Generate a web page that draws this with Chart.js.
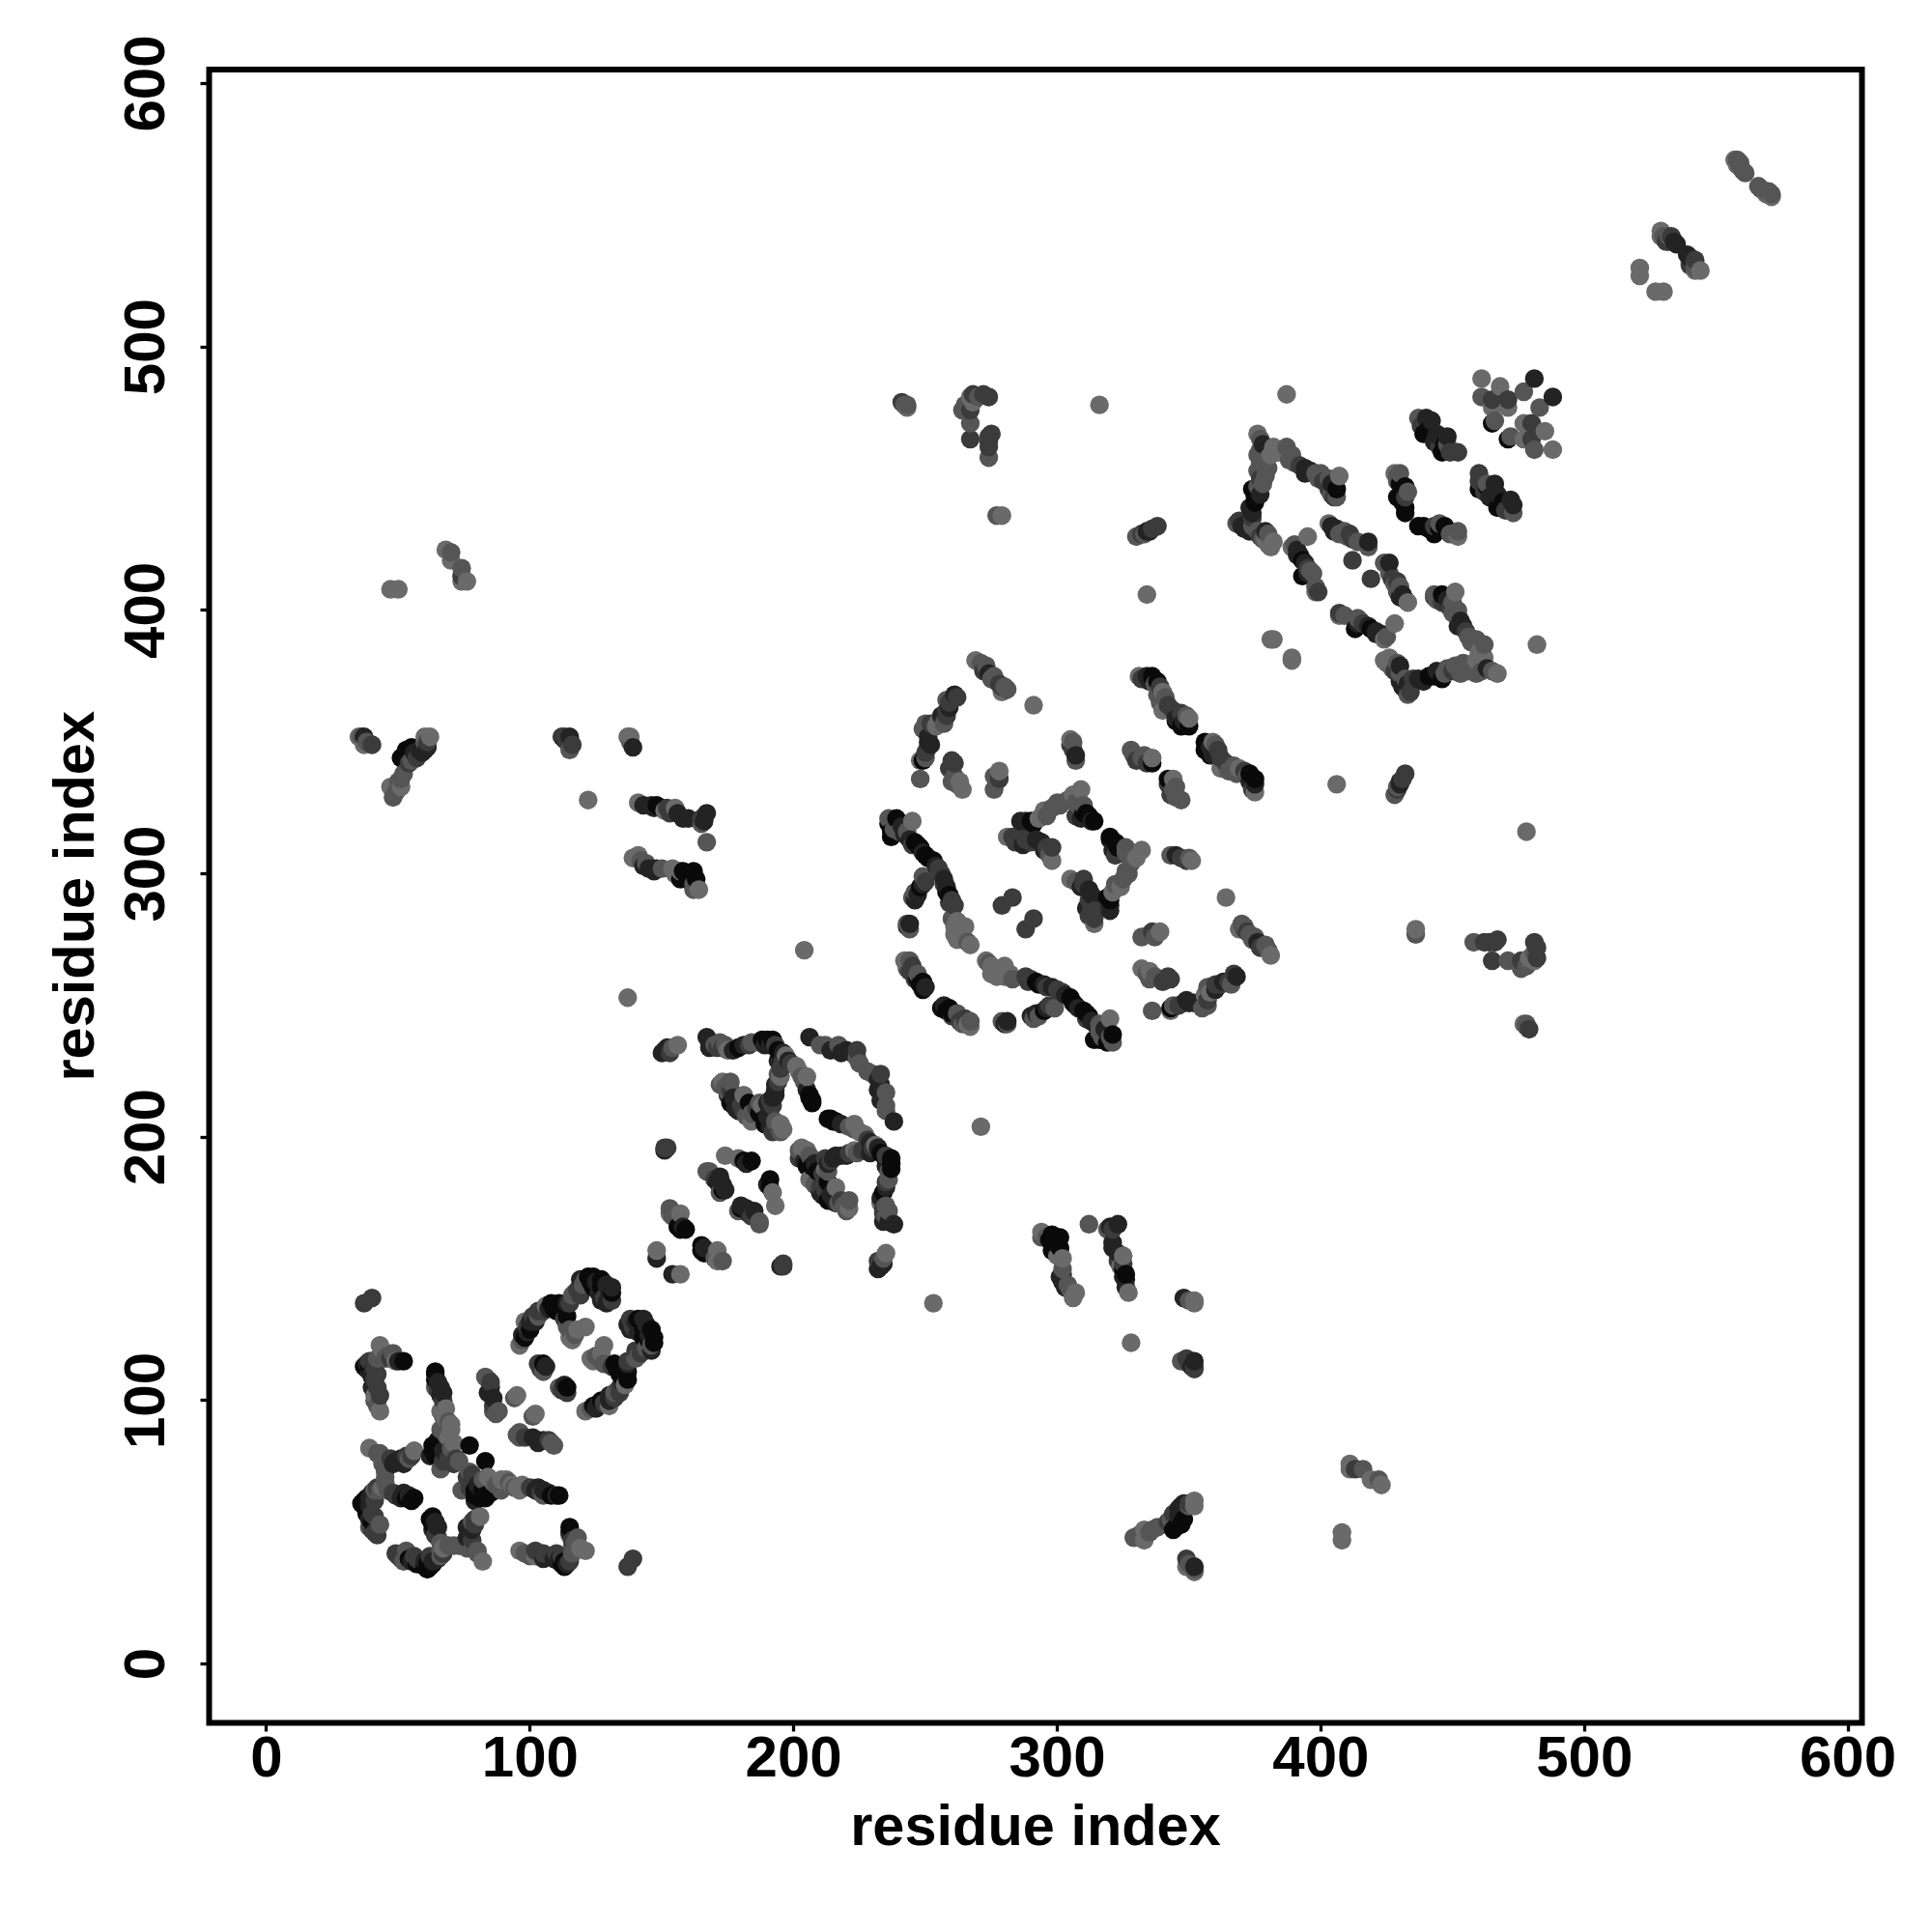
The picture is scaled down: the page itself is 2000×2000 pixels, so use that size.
<!DOCTYPE html>
<html>
<head>
<meta charset="utf-8">
<title>residue contact map</title>
<script src="https://cdn.jsdelivr.net/npm/chart.js@4"></script>
<style>
  html, body { margin: 0; padding: 0; background: #fff; }
  canvas { display: block; }
</style>
</head>
<body>
<canvas id="chartContacts" width="2000" height="2000"></canvas>
<script>
// contacts as [residue i, residue j, tone], i < j. the map is symmetric so both triangles get drawn
const firstDomain = [
  [37,137,2],[40,139,2],
  [43,121,4],[48,118,3],[49,115,4],[52,115,0],[44,118,3],[42,116,3],[37,113,0],[39,113,0],
  [40,111,1],[41,108,2],[40,105,1],[43,102,2],[41,102,4],[43,96,4],
  [38,112,0],[39,111,1],[40,109,1],[41,112,2],[42,110,2],[42,105,2],[41,100,3],[42,98,3],[44,119,4],[46,117,3],[47,116,2],[45,116,3],[50,115,1],[38,114,1],[39,115,2],
  [64,111,0],[64,108,0],[66,105,1],[66,102,1],[64,105,3],[68,97,4],[66,96,4],[70,91,4],
  [71,84,4],[77,83,0],[63,83,0],[65,85,0],[66,82,0],[62,79,1],[67,77,2],[71,76,2],[66,74,3],[66,89,3],
  [64,110,1],[65,107,1],[65,104,2],[67,103,1],[67,100,2],[67,95,4],[68,93,4],[69,92,3],[70,89,4],[67,94,3],[68,87,3],[69,86,4],[70,82,3],
  [63,81,0],[64,83,0],[65,80,0],[64,79,0],[66,79,0],[67,81,1],[68,80,1],[69,78,2],[72,78,2],[73,77,3],
  [39,82,4],[42,80,3],[56,81,4],[53,79,2],[51,78,1],[49,77,1],[45,74,3],[45,71,3],
  [43,80,3],[44,78,3],[47,78,2],[48,76,1],[50,77,1],[52,76,1],[54,78,3],[55,79,2],[44,76,3],[45,73,3],[45,69,3],
  [37,62,0],[38,63,0],[40,65,1],[42,67,2],[44,67,4],[48,65,2],[52,65,1],[56,63,0],
  [37,60,0],[36,61,0],[38,61,0],[39,63,1],[39,60,1],[41,66,3],[43,66,3],[46,66,3],[49,64,2],[51,63,1],[53,63,0],[55,62,0],[54,64,1],
  [41,56,2],[39,52,3],[42,49,2],[40,54,0],[40,57,2],[39,55,1],[40,51,2],[41,50,2],[43,53,3],[38,57,0],[41,62,2]
];
const firstDomainRing = [
  [83,109,3],[85,105,1],[86,101,1],[87,95,3],[84,108,3],[95,102,4],[94,101,3],
  [85,107,2],[84,103,1],[86,98,2],[88,96,3],[86,96,3],
  [103,114,2],[105,114,0],[105,111,3],[104,112,2],[106,113,1],
  [96,121,4],[99,126,1],[98,130,4],[103,134,2],[106,136,4],[111,137,0],[113,136,0],[114,132,0],
  [116,140,3],[121,146,3],[124,147,0],[127,146,0],[131,143,1],[131,138,2],[127,138,1],
  [115,127,3],[116,123,4],[121,128,4],[148,157,4],[148,154,1],
  [97,123,3],[98,124,0],[97,125,1],[99,128,2],[100,127,0],[101,132,2],[100,130,1],[102,130,1],[103,132,3],[105,134,2],
  [107,135,1],[108,137,0],[109,135,0],[110,134,0],[112,133,0],[113,131,2],[114,128,3],[117,125,3],[115,124,4],[118,127,4],
  [114,137,1],[115,137,2],[117,141,3],[118,142,2],[119,140,2],[119,146,1],[120,144,3],[122,147,0],[123,145,0],[125,145,1],
  [124,143,0],[127,143,0],[126,141,1],[129,144,1],[130,140,1],[128,139,2],[129,137,1],[131,141,0]
];
const secondDomain = [
  [151,233,1],[156,235,4],[167,238,1],[170,235,3],[173,234,2],[175,233,4],[179,234,0],[183,235,2],
  [187,236,3],[190,237,0],[193,235,2],[196,232,1],[197,231,4],[194,229,1],[195,226,2],[195,223,4],
  [193,220,1],[192,215,1],[192,212,2],[201,227,4],[205,223,4],[203,223,3],[206,215,0],[207,213,0],
  [206,238,1],[212,235,3],[217,235,3],[220,233,1],[224,233,2],[224,230,3],
  [150,232,1],[152,234,1],[153,232,2],[154,234,3],
  [168,236,1],[168,234,1],[171,234,2],[172,236,3],[174,235,3],[177,233,1],[181,235,1],[184,236,3],[188,237,0],[189,235,1],
  [191,235,1],[192,237,0],[194,233,0],[196,230,2],[198,229,1],[194,224,3],[194,221,2],[193,218,1],[193,216,1],[191,214,2],[190,213,1],
  [199,228,2],[202,225,4],[204,221,3],[205,218,1],[206,216,0],[207,214,0],[210,235,3],[214,233,1],[218,232,1],[222,232,1],[225,228,3],
  [173,221,4],[176,221,3],[181,216,4],[175,217,3],[176,213,0],[183,213,0],[179,210,1],[184,209,3],
  [184,206,4],[188,212,4],[190,208,1],[195,205,4],[195,202,3],[190,205,0],[189,207,0],
  [172,220,3],[174,219,3],[175,216,1],[177,215,1],[176,218,2],[178,214,1],[180,212,2],[178,211,1],[181,210,2],[182,208,3],
  [186,211,2],[187,213,3],[187,209,0],[189,205,0],[191,204,1],[192,202,2],[193,206,3],[196,203,4],
  [151,196,2],[152,196,2],[151,195,1],[174,193,4],[179,192,4],[184,191,0],[181,191,0],[182,190,1],
  [168,187,3],[173,182,1],[173,180,0],[172,179,3],[170,184,2],[171,183,1],[174,180,1],[167,187,3],[172,185,1],
  [153,173,3],[157,171,4],[159,165,0],[156,166,0],[154,170,3],[153,171,4],[158,166,1],[157,165,0]
];
const thirdDomain = [
  [269,381,4],[273,379,3],[276,375,3],[280,371,3],[279,369,4],
  [271,380,3],[272,377,2],[274,376,1],[275,374,3],[277,373,3],[278,372,2],[279,371,2],[281,370,3],
  [261,368,1],[258,366,3],[258,362,2],[250,357,3],[254,356,4],[257,357,3],[251,350,1],[250,346,2],[248,343,4],[249,343,0],
  [262,367,2],[259,365,2],[259,363,1],[256,360,1],[258,360,2],[252,357,2],[255,358,4],[249,355,3],[251,352,1],[252,349,1],[251,348,2],[250,344,3],
  [248,336,3],[260,343,2],[259,340,2],[263,335,4],[264,332,4],[260,335,3],[261,337,3],[262,334,3],[261,342,2],
  [278,339,4],[277,335,3],[276,332,3],[276,337,3],[278,336,2],[291,364,4],[305,351,4],[306,347,2],[307,343,3],[306,350,3],[305,349,2],[307,345,1],
  [331,375,4],[334,375,1],[338,373,0],[340,369,4],[341,367,3],[340,362,4],[347,361,2],[350,359,4],[347,356,0],[350,356,0],
  [332,374,2],[336,375,0],[335,373,1],[337,372,3],[339,371,2],[338,368,3],[339,365,3],[342,364,2],[344,362,2],[345,359,1],[348,358,1],[349,360,3],[345,358,0],
  [328,347,3],[332,344,3],[336,344,4],[336,342,0],[329,345,3],[330,343,2],[333,345,3],[334,342,2]
];
const thirdDomainDiamond = [
  [309,332,4],[304,328,3],[301,326,3],[298,325,3],[293,321,4],[286,320,1],[290,320,0],
  [281,314,4],[286,314,2],[290,312,2],[294,312,1],[298,310,2],[298,305,4],
  [311,323,0],[314,320,0],[309,321,1],[310,326,3],
  [306,330,4],[307,327,3],[300,327,3],[296,322,3],[295,324,4],[288,320,1],[291,319,0],[283,314,2],[284,312,2],[288,313,2],
  [287,311,1],[292,313,1],[296,310,2],[295,309,1],[297,307,3],[310,323,0],[312,322,0],[313,320,1],[307,322,2],[308,326,3],
  [283,291,2],[279,288,2]
];
const thirdDomainEdge = [
  [236,321,3],[239,321,0],[245,320,4],[237,314,0],[240,316,3],[244,313,1],[248,310,0],[253,305,0],
  [256,300,2],[258,295,1],[259,292,0],[261,288,2],[249,299,3],[248,295,0],[245,291,3],[247,292,1],
  [238,320,3],[236,319,0],[237,316,0],[238,317,3],[241,318,1],[242,315,1],[243,316,3],[245,311,2],[246,312,0],[247,311,0],
  [249,308,1],[250,307,0],[251,306,0],[254,303,1],[255,302,2],[257,298,1],[257,296,2],[258,293,0],[260,290,2],[259,289,2],
  [250,297,2],[249,296,1],[246,293,3],[246,290,1],
  [244,281,1],[243,281,3],[262,282,4],[265,280,4],[267,273,4],[261,277,4],[260,283,3],
  [243,280,1],[244,279,3],[261,280,4],[263,279,4],[264,277,4],[265,275,4],[266,274,3],[262,275,4],
  [242,267,4],[245,265,2],[247,262,3],[249,259,0],[249,256,0],
  [243,266,4],[244,267,3],[243,264,3],[244,263,2],[246,260,2],[247,260,0],[248,258,0],[250,257,1]
];
const fourthDomain = [
  [376,467,4],[378,463,1],[384,460,4],[387,462,3],[390,456,3],[394,454,1],[398,452,3],[401,449,2],
  [407,451,4],[406,446,0],[405,443,2],[379,457,3],[379,451,3],[376,447,3],[375,443,0],[373,439,1],
  [377,465,3],[377,461,3],[381,459,4],[382,462,4],[385,461,4],[389,459,3],[388,457,3],[392,455,2],[394,452,1],[396,453,1],
  [399,450,3],[400,452,3],[403,450,3],[404,448,1],[403,446,2],[404,444,3],[406,443,3],
  [380,454,3],[378,448,3],[377,444,1],[375,441,0],[374,437,1],[374,435,2],[376,453,3],[377,456,3],[376,459,3],[377,450,2],[374,446,0],
  [368,433,3],[372,433,1],[376,430,3],[379,430,1],[379,427,4],[381,424,4],
  [370,432,1],[369,434,2],[371,431,1],[373,430,1],[374,432,3],[377,428,2],[378,427,3],[380,429,3],[380,425,4],[382,426,4],
  [403,433,4],[405,430,1],[409,430,3],[412,427,2],[418,426,1],[418,424,3],
  [404,432,1],[406,431,1],[407,429,3],[410,428,3],[411,429,2],[414,426,3],
  [395,428,4],[389,424,4],[391,421,1],[394,418,1],[397,414,3],[393,413,0],[399,407,2],[398,407,4],[412,419,2],
  [390,425,3],[391,423,1],[392,421,1],[393,419,0],[395,416,2],[395,414,1],[396,415,3],[398,409,3],
  [428,452,4],[429,451,3],[432,447,0],[432,443,2],[432,439,0],[429,443,0],
  [429,449,3],[430,452,3],[430,448,0],[431,445,0],[431,441,0],[433,445,3],[432,437,0],
  [437,473,3],[440,473,1],[439,467,0],[444,467,1],[448,466,1],[448,463,3],[446,460,0],[452,460,2],
  [438,470,2],[442,472,1],[441,469,0],[443,464,1],[445,466,1],[447,463,0],[445,462,2],[449,460,2],
  [381,389,4],[382,389,4]
];
const fourthDomainTip = [
  [461,488,4],[481,488,1],[468,485,4],[477,483,3],[461,481,3],[465,480,2],[471,480,2],[471,477,4],[465,477,4],[466,472,3],[465,471,0],
  [521,530,4],[521,527,4],[529,544,4],[532,542,3],[534,540,1],[531,540,2],[530,542,3],[529,542,4],[532,540,2],[533,542,2],[535,539,1],
  [557,571,4],[558,571,3],[559,569,3],[561,566,3],[558,569,4],[560,567,3],[559,570,3]
];
const longRange = [
  [47,408,4],[50,408,4],[68,423,4],[70,422,3],[70,419,4],[74,416,3],[74,413,2],[76,411,4],[74,411,4],
  [35,352,4],[37,352,1],[37,349,4],[40,349,2],[36,352,3],[38,350,3],
  [51,344,0],[55,348,0],[59,346,1],[61,348,1],[60,352,4],[62,352,4],[55,343,3],[54,342,2],[51,336,3],[47,333,4],[51,333,4],[48,329,3],
  [52,345,0],[53,347,0],[56,346,1],[58,347,1],[60,347,1],[57,344,2],[60,350,3],[61,350,2],[49,331,3],[50,335,3],[52,338,3],
  [112,352,2],[115,352,1],[115,347,3],[113,351,1],[137,352,4],[138,352,4],[139,348,1],[113,352,2],[114,350,2],[116,349,2],[138,350,3],
  [122,328,4],[141,327,4],[146,326,1],[150,325,0],[151,324,4],[155,325,4],[158,321,1],[165,319,3],[167,323,1],[165,321,2],[167,312,3],
  [143,326,1],[147,325,1],[148,326,0],[152,325,2],[153,323,2],[156,323,1],[160,321,1],[166,320,1],
  [139,306,4],[141,307,4],[144,304,3],[145,302,1],[148,302,1],[154,302,4],[158,301,0],[157,298,0],[162,301,0],[163,298,0],[164,294,4],[162,294,3],[157,301,4],
  [142,305,3],[143,303,1],[146,302,1],[147,301,1],[150,302,3],[155,300,4],[159,300,0],[160,299,0],[161,297,0],[162,296,3],
  [241,479,2],[243,478,3],[243,477,4],[267,481,4],[264,476,3],[267,476,2],[267,471,3],[267,465,2],[270,481,3],[274,481,2],
  [242,478,3],[268,479,4],[265,478,3],[268,482,2],[272,482,2],[274,464,2],[275,467,2],
  [274,466,2],[274,462,2],[274,458,3],[316,478,4],[277,436,3],[279,436,4],
  [330,428,3],[334,430,1],[338,432,2],[333,429,3],[332,429,2],[335,430,1],[336,431,2],[334,406,4],[137,253,4],[204,271,4],[387,482,4]
];
const toneLevels = ['#0a0a0a', '#232323', '#3b3b3b', '#555555', '#6a6a6a'];
const tickValues = [0, 100, 200, 300, 400, 500, 600];
const axisLabel = 'residue index';

const contacts = [
  ...firstDomain, ...firstDomainRing, ...secondDomain, ...thirdDomain, ...thirdDomainDiamond,
  ...thirdDomainEdge, ...fourthDomain, ...fourthDomainTip, ...longRange
];

// every pair shows up twice, then ordered along x like the original plot
const points = [];
contacts.forEach(([i, j, tone]) => {
  points.push({ x: i, y: j, tone });
  points.push({ x: j, y: i, tone });
});
points.sort((a, b) => a.x - b.x || a.y - b.y);

const framePlugin = {
  id: 'frame',
  afterDatasetsDraw(chart) {
    const { ctx, chartArea: a } = chart;
    ctx.save();
    ctx.lineWidth = 6;
    ctx.strokeStyle = '#000';
    ctx.strokeRect(a.left, a.top, a.right - a.left, a.bottom - a.top);
    ctx.restore();
  }
};

const tickFont = { family: '"Liberation Sans"', size: 60, weight: 'bold' };
const titleFont = { family: '"Liberation Sans"', size: 59.5, weight: 'bold' };
const tickGrid = { drawOnChartArea: false, drawTicks: true, tickLength: 9, tickWidth: 3.3, tickColor: '#000' };
const useTickValues = scale => { scale.ticks = tickValues.map(value => ({ value })); };

new Chart(document.getElementById('chartContacts'), {
  type: 'scatter',
  data: {
    datasets: [{
      label: axisLabel,
      data: points,
      pointRadius: 9.7,
      pointHoverRadius: 9.7,
      pointBorderWidth: 0,
      pointBackgroundColor: points.map(p => toneLevels[p.tone]),
      clip: false
    }]
  },
  options: {
    responsive: false,
    animation: false,
    layout: { padding: { top: 72, right: 72.5, left: 0, bottom: 0 } },
    plugins: { legend: { display: false }, tooltip: { enabled: false } },
    scales: {
      x: {
        type: 'linear',
        min: -21.8,
        max: 605.3,
        border: { display: false },
        grid: tickGrid,
        afterBuildTicks: useTickValues,
        afterFit: scale => { scale.height = 216.5; },
        ticks: { font: tickFont, color: '#000', padding: -6, maxRotation: 0, autoSkip: false },
        title: { display: true, text: axisLabel, color: '#000', font: titleFont, padding: { top: 0, bottom: 71 } }
      },
      y: {
        type: 'linear',
        min: -22.3,
        max: 605.3,
        border: { display: false },
        grid: tickGrid,
        afterBuildTicks: useTickValues,
        afterFit: scale => { scale.width = 216.5; },
        ticks: { font: tickFont, color: '#000', padding: 4, minRotation: 90, maxRotation: 90, crossAlign: 'center', autoSkip: false },
        title: { display: true, text: axisLabel, color: '#000', font: titleFont, padding: { top: 45, bottom: 0 } }
      }
    }
  },
  plugins: [framePlugin]
});
</script>
</body>
</html>
